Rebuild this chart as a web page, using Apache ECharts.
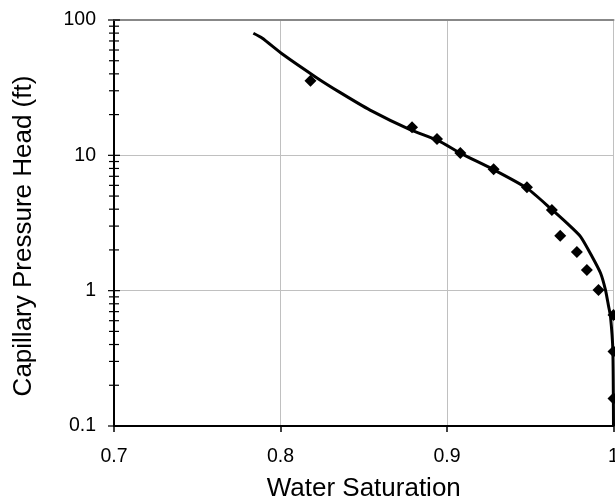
<!DOCTYPE html>
<html>
<head>
<meta charset="utf-8">
<script src="https://cdn.jsdelivr.net/npm/echarts@6/dist/echarts.min.js"></script>
<style>
html,body{margin:0;padding:0;background:#fff;}
#chart{width:615px;height:504px;}
</style>
</head>
<body>
<div id="chart"></div>
<script>
// Measured data (diamonds)
var measuredSw = [0.818, 0.879, 0.894, 0.908, 0.928, 0.948, 0.963, 0.968, 0.978, 0.984, 0.991, 1.0, 1.0, 1.0];
var measuredHead = [35.5, 16.1, 13.2, 10.4, 7.9, 5.8, 3.95, 2.55, 1.93, 1.42, 1.01, 0.66, 0.355, 0.16];

// Fitted curve (solid line)
var curveSw = [0.7837, 0.7889, 0.8013, 0.8217, 0.8357, 0.8538, 0.8778, 0.8945, 0.9085, 0.9277, 0.9482, 0.9632, 0.9722, 0.9802, 0.9871, 0.9922, 0.9952, 0.9970, 0.9982, 0.9996, 1.0];
var curveHead = [79.8, 73.6, 55.8, 37.5, 29.2, 21.6, 15.5, 12.9, 10.3, 7.87, 5.70, 3.95, 3.14, 2.51, 1.79, 1.35, 1.01, 0.773, 0.644, 0.366, 0.1];

// Axis ticks
var xTicks = [0.7, 0.8, 0.9, 1.0];
var yMajorTicks = [0.1, 1, 10, 100];
var yMinorTicks = [0.2, 0.3, 0.4, 0.5, 0.6, 0.7, 0.8, 0.9, 2, 3, 4, 5, 6, 7, 8, 9, 20, 30, 40, 50, 60, 70, 80, 90];

var xTitle = 'Water Saturation';
var yTitle = 'Capillary Pressure Head (ft)';

var FONT = "'Liberation Sans', Arial, sans-serif";

function pairs(xs, ys) { return xs.map(function (x, i) { return [x, ys[i]]; }); }

var tickData = yMajorTicks.map(function (v) { return [xTicks[0], v, 1]; })
  .concat(yMinorTicks.map(function (v) { return [xTicks[0], v, 0]; }));

var chart = echarts.init(document.getElementById('chart'), null, { renderer: 'canvas' });
chart.setOption({
  backgroundColor: '#ffffff',
  animation: false,
  grid: { left: 114, right: 1.5, top: 20, bottom: 78, containLabel: false, outerBoundsMode: 'none' },
  xAxis: [{
    type: 'value', min: xTicks[0], max: xTicks[xTicks.length - 1], interval: 0.1,
    name: xTitle, nameLocation: 'middle', nameGap: 50,
    nameTextStyle: { fontFamily: FONT, fontSize: 26, color: '#000' },
    axisLine: { show: true, onZero: false, lineStyle: { color: '#000', width: 2 } },
    axisTick: { show: true, inside: false, length: 6, lineStyle: { color: '#000', width: 1.5 } },
    axisLabel: { fontFamily: FONT, fontSize: 19.5, color: '#000', margin: 21,
      formatter: function (v) { return String(Math.round(v * 10) / 10); } },
    splitLine: { show: true, lineStyle: { color: '#c0c0c0', width: 1 } }
  }, {
    type: 'value', position: 'top', min: xTicks[0], max: xTicks[xTicks.length - 1], interval: 0.1,
    axisLine: { show: true, lineStyle: { color: '#888', width: 2 } },
    axisTick: { show: false }, axisLabel: { show: false }, splitLine: { show: false }
  }],
  yAxis: {
    type: 'log', logBase: 10, min: 0.1, max: 100,
    axisLine: { show: true, onZero: false, lineStyle: { color: '#000', width: 2 } },
    axisTick: { show: false },
    minorTick: { show: false },
    axisLabel: { fontFamily: FONT, fontSize: 19.5, color: '#000', margin: 18 },
    splitLine: { show: true, lineStyle: { color: '#c0c0c0', width: 1 } }
  },
  graphic: [{
    type: 'text', x: 24, y: 236, rotation: Math.PI / 2,
    style: { text: yTitle, fontFamily: FONT, fontSize: 26, fill: '#000', align: 'center', verticalAlign: 'middle' }
  }],
  series: [{
    type: 'custom', name: 'yticks', xAxisIndex: 0, yAxisIndex: 0, clip: false, silent: true, z: 5,
    data: tickData,
    renderItem: function (params, api) {
      var p = api.coord([api.value(0), api.value(1)]);
      var h = api.value(2) === 1 ? 6 : 5;
      return { type: 'line', shape: { x1: p[0] - h, y1: p[1], x2: p[0] + h, y2: p[1] },
        style: { stroke: '#000', lineWidth: 1.2 } };
    }
  }, {
    type: 'scatter', name: 'Measured', data: pairs(measuredSw, measuredHead),
    symbol: 'diamond', symbolSize: 12, clip: false,
    itemStyle: { color: '#000', opacity: 1 }, z: 3
  }, {
    type: 'line', name: 'Fitted', data: pairs(curveSw, curveHead),
    showSymbol: false, smooth: 0.2, clip: false,
    lineStyle: { color: '#000', width: 3 }, z: 4
  }]
});
</script>
</body>
</html>
